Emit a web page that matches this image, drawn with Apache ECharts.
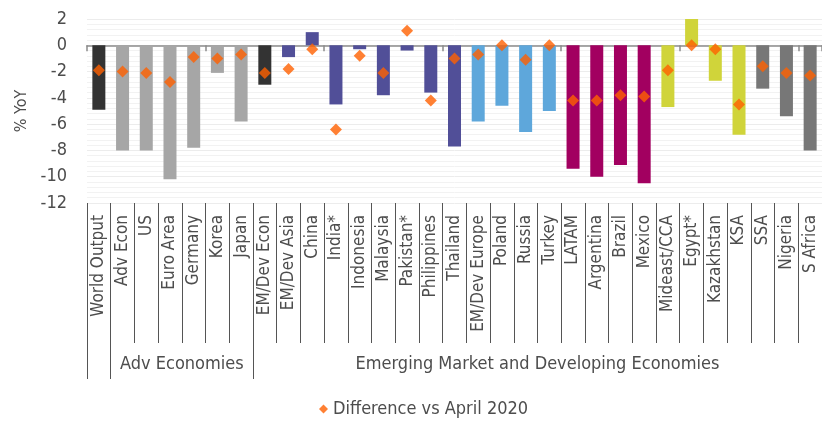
<!DOCTYPE html>
<html>
<head>
<meta charset="utf-8">
<script src="https://cdn.jsdelivr.net/npm/echarts@6/dist/echarts.min.js"></script>
<style>
  html, body { margin: 0; padding: 0; background: #fff; }
  #chart { width: 822px; height: 423px; }
</style>
</head>
<body>
<div id="chart"></div>
<script>
// categories, in chart order
var countries = ['World Output', 'Adv Econ', 'US', 'Euro Area', 'Germany', 'Korea', 'Japan',
  'EM/Dev Econ', 'EM/Dev Asia', 'China', 'India*', 'Indonesia', 'Malaysia', 'Pakistan*', 'Philippines', 'Thailand',
  'EM/Dev Europe', 'Poland', 'Russia', 'Turkey',
  'LATAM', 'Argentina', 'Brazil', 'Mexico',
  'Mideast/CCA', 'Egypt*', 'Kazakhstan', 'KSA',
  'SSA', 'Nigeria', 'S Africa'];

// region of each category (drives the bar colour)
var regions = ['world', 'adv', 'adv', 'adv', 'adv', 'adv', 'adv',
  'world', 'asia', 'asia', 'asia', 'asia', 'asia', 'asia', 'asia', 'asia',
  'europe', 'europe', 'europe', 'europe',
  'latam', 'latam', 'latam', 'latam',
  'mideast', 'mideast', 'mideast', 'mideast',
  'ssa', 'ssa', 'ssa'];

// 2020 growth forecast, % YoY
var forecast2020 = [-4.9, -8.0, -8.0, -10.2, -7.8, -2.1, -5.8,
  -3.0, -0.9, 1.0, -4.5, -0.3, -3.8, -0.4, -3.6, -7.7,
  -5.8, -4.6, -6.6, -5.0,
  -9.4, -10.0, -9.1, -10.5,
  -4.7, 2.0, -2.7, -6.8,
  -3.3, -5.4, -8.0];

// revision vs April 2020 forecast
var diffVsApril = [-1.9, -2.0, -2.1, -2.8, -0.9, -1.0, -0.7,
  -2.1, -1.8, -0.3, -6.4, -0.8, -2.1, 1.1, -4.2, -1.0,
  -0.7, 0.0, -1.1, 0.0,
  -4.2, -4.2, -3.8, -3.9,
  -1.9, 0.0, -0.3, -4.5,
  -1.6, -2.1, -2.3];

// group brackets under the axis (category index boundaries)
var groupBounds = [0, 1, 7, 31];
var groupNames = ['Adv Economies', 'Emerging Market and Developing Economies'];
var groupCentres = [4, 19];

var regionColor = {
  world: '#333333',
  adv: '#a6a6a6',
  asia: '#514f98',
  europe: '#5ea7db',
  latam: '#a20060',
  mideast: '#d0d43a',
  ssa: '#777777'
};

var FONT = 'DejaVu Sans Condensed';
var TXT = '#4d4d4d';
var chart = echarts.init(document.getElementById('chart'));

var option = {
  animation: false,
  grid: { left: 87, width: 744, top: 19, bottom: 220, containLabel: false },
  legend: {
    bottom: 0,
    left: 314,
    data: ['Difference vs April 2020'],
    icon: 'diamond',
    itemWidth: 9,
    itemHeight: 9,
    itemGap: 6,
    textStyle: { fontFamily: FONT, fontSize: 18, color: TXT }
  },
  xAxis: [
    {
      // zero line with small ticks
      type: 'category',
      data: countries,
      position: 'bottom',
      axisLine: { onZero: true, lineStyle: { color: '#8c8c8c', width: 1.5 } },
      axisTick: { show: true, length: 6, lineStyle: { color: '#8c8c8c', width: 1.5 } },
      axisLabel: { show: false },
      splitLine: { show: false }
    },
    {
      // labels at the bottom with separators
      type: 'category',
      data: countries,
      position: 'bottom',
      axisLine: { show: false, onZero: false },
      axisTick: { show: true, length: 140, lineStyle: { color: '#555', width: 1 } },
      axisLabel: {
        rotate: 90, margin: 12, interval: 0,
        fontFamily: FONT, fontSize: 17, color: TXT
      },
      splitLine: { show: false }
    },
    {
      // group brackets
      type: 'value',
      min: 0,
      max: 31,
      position: 'bottom',
      axisLine: { show: false, onZero: false },
      axisTick: { show: true, length: 176, customValues: groupBounds, lineStyle: { color: '#555', width: 1 } },
      axisLabel: {
        customValues: groupCentres,
        margin: 152,
        fontFamily: FONT, fontSize: 18, color: TXT,
        formatter: function (v) {
          var i = groupCentres.indexOf(v);
          return i >= 0 ? groupNames[i] : '';
        }
      },
      splitLine: { show: false }
    }
  ],
  yAxis: {
    type: 'value',
    min: -12,
    max: 2,
    interval: 2,
    name: '% YoY',
    nameLocation: 'middle',
    nameRotate: 90,
    nameGap: 56,
    nameTextStyle: { fontFamily: FONT, fontSize: 16, color: TXT },
    axisLine: { show: false },
    axisTick: { show: false },
    axisLabel: { margin: 20, fontFamily: FONT, fontSize: 18, color: TXT },
    splitLine: { lineStyle: { color: '#ececec' } },
    minorTick: { show: false, splitNumber: 5 },
    minorSplitLine: { show: true, lineStyle: { color: '#f2f2f2' } }
  },
  series: [
    {
      name: '2020 forecast',
      type: 'bar',
      barWidth: 13,
      data: forecast2020.map(function (v, i) {
        return { value: v, itemStyle: { color: regionColor[regions[i]] } };
      })
    },
    {
      name: 'Difference vs April 2020',
      type: 'scatter',
      symbol: 'diamond',
      symbolSize: 12,
      itemStyle: { color: '#ff6000' },
      data: diffVsApril,
      z: 3
    }
  ]
};

chart.setOption(option);
</script>
</body>
</html>
